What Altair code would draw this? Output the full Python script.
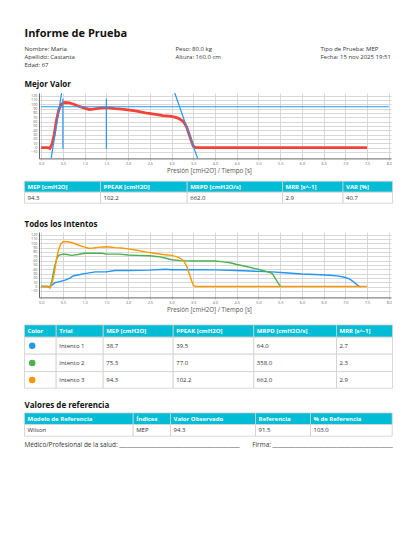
import altair as alt
import pandas as pd

FONT = "Open Sans"
CYAN = "#00BCD4"
DARK = "#333333"
GRID = "#d4d4d4"
AXIS = "#666666"

# ---------------- data ----------------
report_title = "Informe de Prueba"
info_col1 = ["Nombre: Maria", "Apellido: Castanta", "Edad: 67"]
info_col2 = ["Peso: 80.0 kg", "Altura: 160.0 cm"]
info_col3 = ["Tipo de Prueba: MEP", "Fecha: 15 nov 2025 19:51"]
section_titles = ["Mejor Valor", "Todos los Intentos", "Valores de referencia"]
x_axis_title = "Presión [cmH2O] / Tiempo [s]"
x_ticks = [0.0, 0.5, 1.0, 1.5, 2.0, 2.5, 3.0, 3.5, 4.0, 4.5, 5.0, 5.5, 6.0, 6.5, 7.0, 7.5, 8.0]
y_ticks = [-10, 0, 10, 20, 30, 40, 50, 60, 70, 80, 90, 100, 110, 120]

trial_names = ["Intento 1", "Intento 2", "Intento 3"]
trial_colors = ["#2196F3", "#4CAF50", "#FF9800"]

t_int1 = [0, 0.2, 0.25, 0.32, 0.4, 0.55, 0.65, 0.75, 0.9, 1.0, 1.25, 1.5, 1.7, 2.0, 2.5, 2.86,
          3.0, 3.5, 4.0, 4.5, 5.0, 5.3, 5.6, 6.0, 6.3, 6.65, 6.85, 7.0, 7.1, 7.2, 7.27, 7.32, 7.36]
p_int1 = [0, 0, 3, 9, 11, 15, 19, 25, 28, 30, 34, 34, 37, 37, 38, 40,
          39, 39, 38.5, 37, 35, 34, 32, 29, 28, 26, 24, 21, 17, 10, 4, 0.5, 0]

t_int2 = [0, 0.15, 0.2, 0.25, 0.3, 0.35, 0.4, 0.5, 0.6, 0.7, 0.85, 1.0, 1.2, 1.4, 1.5, 1.6, 1.8,
          2.0, 2.2, 2.5, 2.7, 2.85, 3.0, 3.2, 3.5, 4.0, 4.2, 4.35, 4.5, 4.7, 4.9, 5.1, 5.25,
          5.32, 5.38, 5.44, 5.5, 5.55]
p_int2 = [0, 0, -3, 15, 42, 62, 72, 75, 74, 72, 74, 77, 77, 77, 75, 75, 75,
          73, 72, 71, 69, 66, 62, 60, 59, 59, 57, 55, 51, 47, 42, 37, 33,
          30, 20, 10, 1, 0]

t_int3 = [0, 0.15, 0.2, 0.25, 0.3, 0.35, 0.4, 0.45, 0.5, 0.55, 0.65, 0.75, 0.85, 1.0, 1.1, 1.2,
          1.35, 1.5, 1.7, 1.85, 2.0, 2.2, 2.4, 2.6, 2.8, 3.0, 3.15, 3.25, 3.3, 3.35, 3.4, 3.45,
          3.5, 3.55, 3.6, 7.5]
p_int3 = [0, 0, -2, 8, 30, 62, 85, 98, 103, 104, 103, 100, 96, 91, 88, 89,
          91, 92, 90, 89, 87, 84, 80, 77, 74, 72, 68, 62, 56, 47, 32, 17,
          3, 0, 0, 0]

mep_best = 94.3
mep_span_t = [0.0, 8.0]
window_t = [0.5, 1.5]
window_p = [-3, 113]
tangent_up_t = [0.23, 0.47]
tangent_up_p = [-25, 126]
tangent_down_t = [3.06, 3.60]
tangent_down_p = [130, -25]

best_headers = ["MEP [cmH2O]", "PPEAK [cmH2O]", "MRPD [cmH2O/s]", "MRR [s^-1]", "VAR [%]"]
best_values = ["94.3", "102.2", "662.0", "2.9", "40.7"]

trial_headers = ["Color", "Trial", "MEP [cmH2O]", "PPEAK [cmH2O]", "MRPD [cmH2O/s]", "MRR [s^-1]"]
trial_mep = ["38.7", "75.3", "94.3"]
trial_ppeak = ["39.5", "77.0", "102.2"]
trial_mrpd = ["64.0", "358.0", "662.0"]
trial_mrr = ["2.7", "2.3", "2.9"]

ref_headers = ["Modelo de Referencia", "Índices", "Valor Observado", "Referencia", "% de Referencia"]
ref_values = ["Wilson", "MEP", "94.3", "91.5", "103.0"]

signature_labels = ["Médico/Profesional de la salud: ", "Firma: "]

# ---------------- layout (pixels from page margin; shifted to plot-left origin) ----------------
OX = 30.5
PANEL_W = 352
HEAD_H = 84.4
PLOT_H = 65.4
MID_H = 72.7
BOTTOM_H = 160
X_DOMAIN = [-0.05, 8.05]
Y_DOMAIN = [-25, 126]

t1_cols = [16, 92, 178.7, 274, 334.5, 384]
t1_rows = [22.2, 33.2, 44.2]
t2_cols = [16, 47.7, 94.7, 164.7, 245.3, 328, 384]
t2_rows = [26.9, 39.2, 56.2, 73.6, 90.2]
t3_cols = [16, 124.7, 162, 247, 302, 383.7]
t3_rows = [114.9, 126.6, 138.2]


def px(field):
    return alt.X(field, scale=None, axis=None)


def py(field):
    return alt.Y(field, scale=None, axis=None)


def text_layer(rows, size, weight, color, baseline="alphabetic"):
    df = pd.DataFrame(rows, columns=["x", "y", "label"])
    df["x"] = df["x"] - OX
    return alt.Chart(df).mark_text(
        fontSize=size, fontWeight=weight, color=color, align="left",
        baseline=baseline, font=FONT
    ).encode(x=px("x:Q"), y=py("y:Q"), text="label:N")


def table_layers(cols, rows, header, body):
    cells = []
    for r in range(len(rows) - 1):
        for c in range(len(cols) - 1):
            cells.append({"x": cols[c] - OX, "x2": cols[c + 1] - OX, "y": rows[r], "y2": rows[r + 1],
                          "fill": CYAN if r == 0 else "#ffffff"})
    rect = alt.Chart(pd.DataFrame(cells)).mark_rect(stroke="#cfcfcf", strokeWidth=0.8).encode(
        x=px("x:Q"), x2="x2:Q", y=py("y:Q"), y2="y2:Q", fill=alt.Fill("fill:N", scale=None))
    head = [(cols[c] + 3, (rows[0] + rows[1]) / 2, h) for c, h in enumerate(header)]
    bod = []
    for r, row in enumerate(body):
        for c, v in enumerate(row):
            if v:
                bod.append((cols[c] + 3, (rows[r + 1] + rows[r + 2]) / 2, v))
    return [rect,
            text_layer(head, 6, "bold", "#ffffff", "middle"),
            text_layer(bod, 6, "normal", DARK, "middle")]


# ---------------- header panel ----------------
header = alt.layer(
    text_layer([(16, 28.5, report_title)], 11, "bold", "#111111"),
    text_layer([(16, 43 + 8 * i, s) for i, s in enumerate(info_col1)]
               + [(167, 43 + 8 * i, s) for i, s in enumerate(info_col2)]
               + [(312, 43 + 8 * i, s) for i, s in enumerate(info_col3)], 6, "normal", DARK),
    text_layer([(16, 79, section_titles[0])], 8, "bold", "#111111"),
).properties(width=PANEL_W, height=HEAD_H)

# ---------------- pressure charts ----------------
x_enc = alt.X("t:Q", scale=alt.Scale(domain=X_DOMAIN, nice=False, zero=False),
              axis=alt.Axis(values=x_ticks, format=".1f", title=x_axis_title,
                            labelFontSize=3.8, labelColor=AXIS, labelFlush=False, labelOverlap=False,
                            titleFontSize=6.2, titleColor="#555555", titleFontWeight="normal",
                            titleX=170,
                            domainColor=AXIS, domainWidth=1, tickColor=GRID, tickSize=2,
                            labelPadding=1, titlePadding=2.2, gridColor=GRID, gridWidth=0.9))
y_enc = alt.Y("p:Q", scale=alt.Scale(domain=Y_DOMAIN, nice=False, zero=False),
              axis=alt.Axis(values=y_ticks, title=None, labelFontSize=3.8, labelColor=AXIS,
                            labelOverlap=False, labelFlush=False, domainColor=AXIS, domainWidth=1,
                            tickColor=GRID, tickSize=1, labelPadding=1,
                            gridColor=GRID, gridWidth=0.9))

best_df = pd.DataFrame({"t": t_int3, "p": p_int3})
best_line = alt.Chart(best_df).mark_line(color="#F44336", strokeWidth=2.8).encode(x=x_enc, y=y_enc)
mep_rule = alt.Chart(pd.DataFrame({"t": [mep_span_t[0]], "t2": [mep_span_t[1]], "p": [mep_best]})).mark_rule(
    color="#2196F3", strokeWidth=1.2).encode(x=x_enc, x2="t2:Q", y=y_enc)
win_rule = alt.Chart(pd.DataFrame({"t": window_t, "p": [window_p[0]] * 2, "p2": [window_p[1]] * 2})).mark_rule(
    color="#2196F3", strokeWidth=1.2).encode(x=x_enc, y=y_enc, y2="p2:Q")
tan_df = pd.DataFrame({"t": tangent_up_t + tangent_down_t, "p": tangent_up_p + tangent_down_p,
                       "seg": ["up", "up", "down", "down"]})
tan_line = alt.Chart(tan_df).mark_line(color="#2196F3", strokeWidth=1.2, clip=True).encode(
    x=x_enc, y=y_enc, detail="seg:N")

chart1 = alt.layer(best_line, mep_rule, win_rule, tan_line).properties(width=PANEL_W, height=PLOT_H)

all_df = pd.concat([
    pd.DataFrame({"t": t_int1, "p": p_int1, "trial": trial_names[0]}),
    pd.DataFrame({"t": t_int2, "p": p_int2, "trial": trial_names[1]}),
    pd.DataFrame({"t": t_int3, "p": p_int3, "trial": trial_names[2]}),
])
chart2 = alt.Chart(all_df).mark_line(strokeWidth=1.4).encode(
    x=x_enc, y=y_enc,
    color=alt.Color("trial:N", scale=alt.Scale(domain=trial_names, range=trial_colors), legend=None)
).properties(width=PANEL_W, height=PLOT_H)

# ---------------- middle panel ----------------
mid = alt.layer(
    *table_layers(t1_cols, t1_rows, best_headers, [best_values]),
    text_layer([(16, 67.7, section_titles[1])], 8, "bold", "#111111"),
).properties(width=PANEL_W, height=MID_H)

# ---------------- bottom panel ----------------
trial_body = [["", trial_names[i], trial_mep[i], trial_ppeak[i], trial_mrpd[i], trial_mrr[i]]
              for i in range(3)]
circ_df = pd.DataFrame({"x": [t2_cols[0] + 7.7 - OX] * 3,
                        "y": [(t2_rows[i + 1] + t2_rows[i + 2]) / 2 for i in range(3)],
                        "c": trial_colors})
circles = alt.Chart(circ_df).mark_circle(size=42, opacity=1).encode(
    x=px("x:Q"), y=py("y:Q"), color=alt.Color("c:N", scale=None))

sig = [(16, 148.9, signature_labels[0] + "_" * 43), (243.7, 148.9, signature_labels[1] + "_" * 43)]

bottom = alt.layer(
    *table_layers(t2_cols, t2_rows, trial_headers, trial_body),
    circles,
    text_layer([(16, 109.9, section_titles[2])], 8, "bold", "#111111"),
    *table_layers(t3_cols, t3_rows, ref_headers, [ref_values]),
    text_layer(sig, 6.4, "normal", DARK),
).properties(width=PANEL_W, height=BOTTOM_H)

chart = alt.vconcat(header, chart1, mid, chart2, bottom, spacing=0, bounds="flush").properties(
    padding={"left": 16, "top": 0, "right": 0, "bottom": 0}, background="#ffffff"
).configure(font=FONT).configure_view(strokeWidth=0)

chart.save("out.html", embed_options={"renderer": "svg", "actions": False})
